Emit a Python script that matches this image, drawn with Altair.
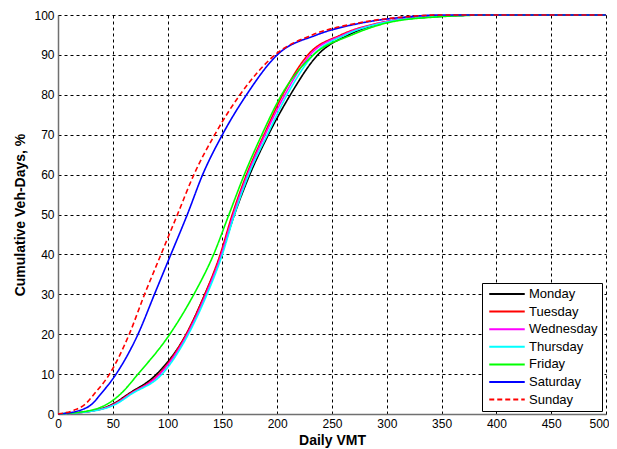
import altair as alt
import pandas as pd

days = ["Monday", "Tuesday", "Wednesday", "Thursday", "Friday", "Saturday", "Sunday"]
colors = ["#000000", "#ff0000", "#ff00ff", "#00ffff", "#00ff00", "#0000ff", "#ff0000"]
dashes = [[1, 0], [1, 0], [1, 0], [1, 0], [1, 0], [1, 0], [5, 3]]

# cumulative % levels and daily VMT at which each curve reaches them
levels = [0, 1, 2.5, 5, 10, 20, 30, 40, 50, 60, 70, 80, 90, 95, 98, 99.5, 100, 100]
vmt_monday    = [0, 35, 50, 64, 90, 117, 134, 149, 161, 175, 192, 212, 237, 265, 296, 340, 392, 500]
vmt_tuesday   = [0, 36, 51, 65, 92, 117, 134, 148, 159, 172, 188, 205, 228, 258, 293, 338, 390, 500]
vmt_wednesday = [0, 36, 52, 66, 93, 118, 135, 149, 160, 173, 189, 207, 230, 260, 294, 339, 391, 500]
vmt_thursday  = [0, 37, 53, 67, 95, 119, 136, 150, 161, 174, 191, 209, 233, 262, 296, 340, 393, 500]
vmt_friday    = [0, 31, 45, 57, 73, 102, 124, 142, 156, 170, 186, 204, 233, 268, 300, 345, 398, 500]
vmt_saturday  = [0, 21, 31, 39, 53, 73, 88, 103, 118, 132, 150, 172, 200, 236, 277, 318, 350, 500]
vmt_sunday    = [0, 15, 25, 33, 47, 65, 79, 94, 109, 124, 143, 166, 198, 232, 274, 315, 345, 500]

series = {
    "Monday": vmt_monday, "Tuesday": vmt_tuesday, "Wednesday": vmt_wednesday,
    "Thursday": vmt_thursday, "Friday": vmt_friday, "Saturday": vmt_saturday,
    "Sunday": vmt_sunday,
}

rows = []
for i, d in enumerate(days):
    for j, (x, y) in enumerate(zip(series[d], levels)):
        rows.append({"day": d, "idx": j, "vmt": x, "pct": y})
df = pd.DataFrame(rows)

FONT = "Liberation Sans"

legend = alt.Legend(
    title=None, orient="none", legendX=424, legendY=268,
    strokeColor="black", fillColor="white", padding=4,
    symbolType="M-3,0H3", symbolSize=140, symbolStrokeWidth=2,
    symbolOffset=14, labelOffset=15,
    labelFont=FONT, labelFontSize=13, labelColor="black",
    rowPadding=3.6, cornerRadius=0,
)

x_axis = alt.Axis(
    values=list(range(0, 501, 50)), title="Daily VMT",
    labelAlign={"condition": {"test": "datum.value == 500", "value": "right"}, "value": "center"},
    labelOffset={"condition": {"test": "datum.value == 500", "value": 3}, "value": 0},
)

chart = alt.Chart(df).mark_line(strokeWidth=1.6, interpolate="monotone").encode(
    x=alt.X("vmt:Q", scale=alt.Scale(domain=[0, 500], nice=False), axis=x_axis),
    y=alt.Y("pct:Q", scale=alt.Scale(domain=[0, 100], nice=False),
            axis=alt.Axis(values=list(range(0, 101, 10)), title="Cumulative Veh-Days, %")),
    color=alt.Color("day:N", sort=days, scale=alt.Scale(domain=days, range=colors), legend=legend),
    strokeDash=alt.StrokeDash("day:N", sort=days, scale=alt.Scale(domain=days, range=dashes), legend=legend),
    order=alt.Order("idx:Q"),
).properties(
    width=548, height=399,
    autosize=alt.AutoSizeParams(type="none"),
    padding={"left": 50, "top": 7, "right": 3, "bottom": 35},
).configure_view(
    stroke="transparent",
).configure_axis(
    grid=True, gridColor="black", gridDash=[3, 3], gridOpacity=1, gridWidth=1,
    domainColor="#707070", domainWidth=1.5, ticks=False, labelFlush=False,
    labelFont=FONT, labelFontSize=12, labelColor="black", labelPadding=4,
    titleFont=FONT, titleFontSize=14, titleFontWeight="bold", titleColor="black",
).configure_axisX(
    titlePadding=4,
).configure_axisY(
    titlePadding=6,
)

chart.save("out.html", embed_options={"renderer": "svg", "actions": False})
